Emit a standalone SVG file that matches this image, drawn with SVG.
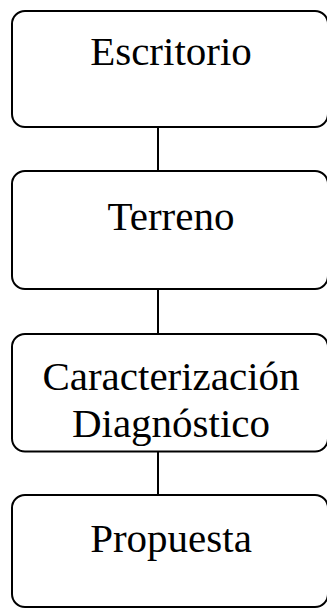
<svg xmlns="http://www.w3.org/2000/svg" width="327" height="609" viewBox="0 0 327 609">
<style>
.box{fill:#fff;stroke:#000;stroke-width:2}
.lbl{font-family:"Liberation Serif","Times New Roman",serif;font-size:41px;fill:#000;text-anchor:middle}
.con{stroke:#000;stroke-width:2;fill:none}
</style>
<rect width="327" height="609" fill="#fff"/>
<g id="connectors">
<line class="con" x1="158" y1="127" x2="158" y2="171"/>
<line class="con" x1="158" y1="289" x2="158" y2="334"/>
<line class="con" x1="158" y1="451.5" x2="158" y2="495"/>
</g>
<g id="escritorio">
<rect class="box" x="12" y="11" width="316" height="116" rx="13"/>
<text class="lbl" x="171" y="65">Escritorio</text>
</g>
<g id="terreno">
<rect class="box" x="12" y="171" width="316" height="118" rx="13"/>
<text class="lbl" x="171" y="230">Terreno</text>
</g>
<g id="caracterizacion">
<rect class="box" x="12" y="334" width="316" height="117.5" rx="13"/>
<text class="lbl" x="171" y="390">Caracterización</text>
<text class="lbl" x="171" y="437">Diagnóstico</text>
</g>
<g id="propuesta">
<rect class="box" x="12" y="495" width="316" height="112" rx="13"/>
<text class="lbl" x="171" y="552">Propuesta</text>
</g>
</svg>
